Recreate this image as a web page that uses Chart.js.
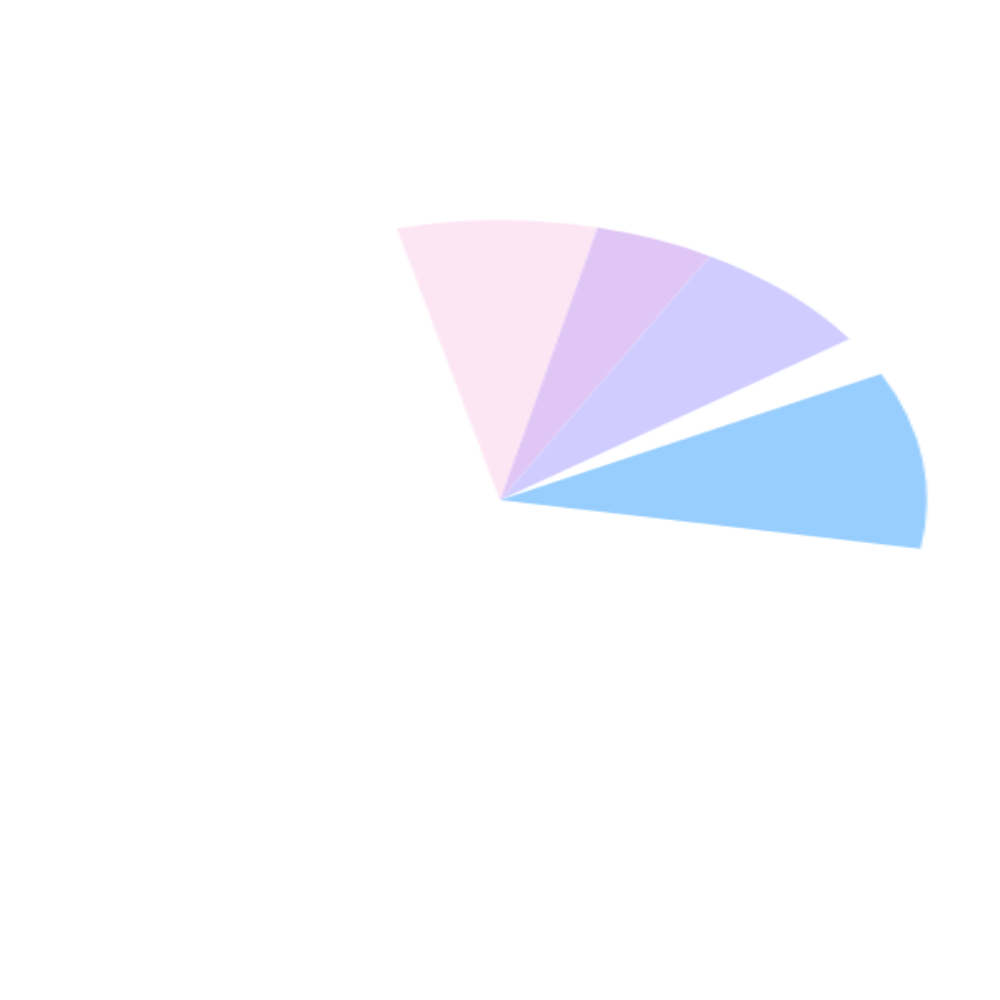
<!DOCTYPE html>
<html>
<head>
<meta charset="utf-8">
<script src="https://cdn.jsdelivr.net/npm/chart.js@4/dist/chart.umd.min.js"></script>
<style>
  html, body { margin: 0; padding: 0; background: #fff; overflow: hidden; }
  /* the canvas is drawn small and stretched to the page, so the pie shows as an ellipse */
  #myChart { display: block; width: 1000px !important; height: 1000px !important; }
</style>
</head>
<body>
<canvas id="myChart" width="400" height="610" style="width:1000px;height:1000px"></canvas>
<script>
const labels = ['A', 'B', 'C', 'D', 'E', 'F'];
const values = [27.2, 16.2, 25.5, 8.3, 36.8, 246];
const colors = ['#fde6f4', '#e0c6f5', '#d0ccff', 'rgba(255,255,255,0)', '#98cefe', 'rgba(255,255,255,0)'];

window.onload = function(){

  const data = {
    labels: labels,
    datasets: [{
      data: values,
      backgroundColor: colors,
      borderWidth: 0,
      hoverOffset: 0
    }]
  };

  const config = {
    type: 'pie',
    data: data,
    options: {
      responsive: false,
      animation: false,
      devicePixelRatio: 1,
      rotation: -14,
      radius: '85.4%',
      layout: { padding: 0 },
      plugins: {
        legend: { display: false },
        tooltip: { enabled: false }
      }
    }
  };

  const myChart = new Chart(
    document.getElementById('myChart'),
    config
  );
}
</script>
</body>
</html>
